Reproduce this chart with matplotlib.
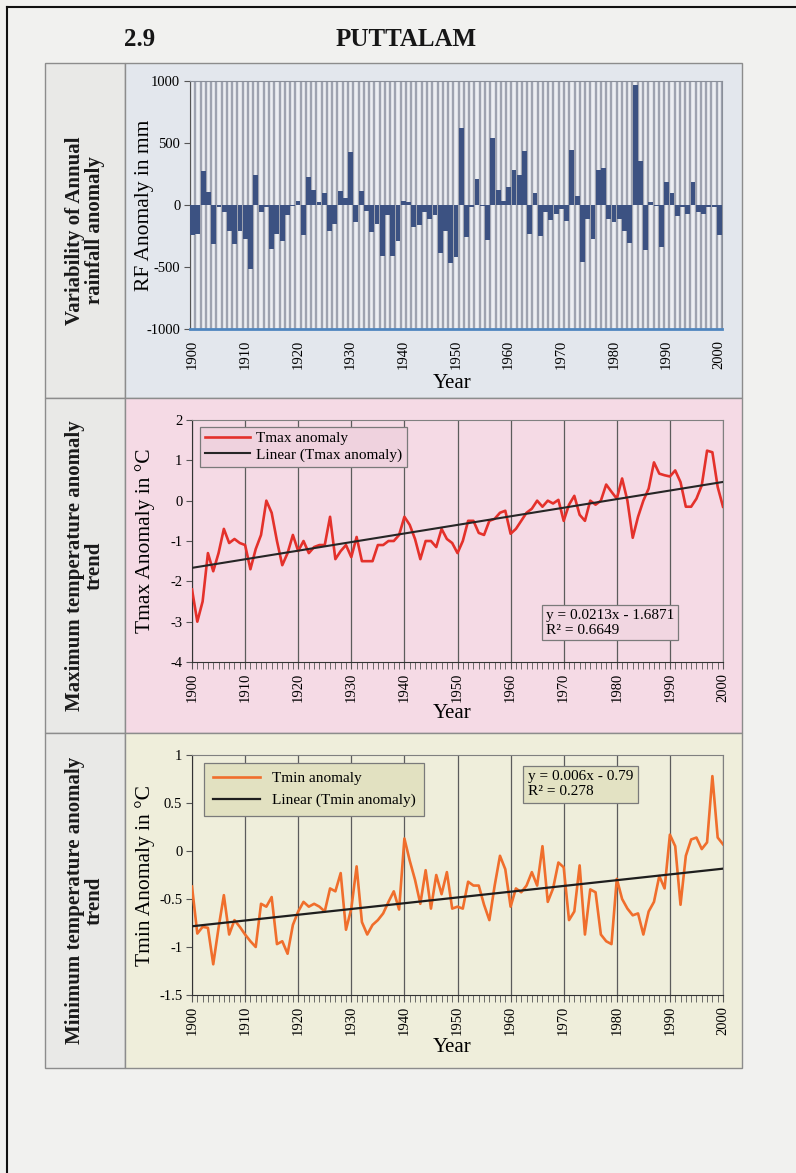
import matplotlib
matplotlib.use('Agg')
import matplotlib.pyplot as plt
from matplotlib.patches import Rectangle
from matplotlib.lines import Line2D
import numpy as np

plt.rcParams['font.family'] = ['Liberation Serif', 'DejaVu Serif']
plt.rcParams['axes.unicode_minus'] = False

# ---- data ----
years = list(range(1900, 2001))

# annual rainfall anomaly, mm
rf = [-240, -230, 272, 107, -312, -20, -58, -211, -318, -211,
      -274, -520, 241, -53, -20, -356, -231, -287, -84, -5,
      36, -241, 226, 124, 23, 94, -206, -155, 112, 56,
      429, -135, 112, -46, -216, -155, -410, -84, -410, -287,
      30, 25, -180, -160, -58, -109, -84, -390, -211, -470,
      -420, 620, -262, -15, 208, -5, -282, 540, 124, 30,
      145, 279, 241, 432, -236, 99, -254, -53, -122, -71,
      -33, -127, 440, 74, -460, -109, -274, 279, 297, -109,
      -140, -109, -211, -307, 970, 353, -360, 23, -10, -340,
      183, 99, -89, -20, -71, 183, -58, -71, -15, -15,
      -240]

# maximum temperature anomaly, deg C
tmax = [-2.2, -3.0, -2.5, -1.3, -1.75, -1.3, -0.7, -1.05, -0.95, -1.05,
        -1.1, -1.7, -1.2, -0.85, 0.0, -0.3, -1.0, -1.6, -1.3, -0.85,
        -1.25, -1.0, -1.3, -1.15, -1.1, -1.1, -0.4, -1.45, -1.25, -1.1,
        -1.4, -0.9, -1.5, -1.5, -1.5, -1.1, -1.1, -1.0, -1.0, -0.85,
        -0.4, -0.6, -0.95, -1.45, -1.0, -1.0, -1.15, -0.7, -0.95, -1.05,
        -1.3, -1.0, -0.5, -0.5, -0.8, -0.85, -0.5, -0.45, -0.3, -0.25,
        -0.82, -0.7, -0.5, -0.3, -0.2, 0.0, -0.15, 0.0, -0.07, 0.02,
        -0.5, -0.1, 0.12, -0.35, -0.5, 0.0, -0.1, 0.0, 0.4, 0.22,
        0.05, 0.55, 0.0, -0.92, -0.4, 0.0, 0.3, 0.95, 0.67, 0.63,
        0.6, 0.75, 0.46, -0.15, -0.15, 0.05, 0.38, 1.24, 1.2, 0.34,
        -0.15]

# minimum temperature anomaly, deg C
tmin = [-0.37, -0.86, -0.79, -0.8, -1.18, -0.8, -0.46, -0.87, -0.72, -0.79,
        -0.87, -0.94, -1.0, -0.55, -0.58, -0.48, -0.97, -0.94, -1.07, -0.77,
        -0.63, -0.53, -0.58, -0.55, -0.58, -0.63, -0.39, -0.42, -0.23, -0.82,
        -0.6, -0.16, -0.74, -0.87, -0.77, -0.72, -0.65, -0.53, -0.42, -0.61,
        0.13, -0.1, -0.3, -0.55, -0.2, -0.6, -0.25, -0.45, -0.22, -0.6,
        -0.58, -0.6, -0.32, -0.36, -0.36, -0.56, -0.72, -0.36, -0.05, -0.19,
        -0.58, -0.39, -0.43, -0.36, -0.22, -0.36, 0.05, -0.53, -0.39, -0.12,
        -0.17, -0.72, -0.63, -0.15, -0.87, -0.4, -0.43, -0.87, -0.94, -0.97,
        -0.29, -0.5, -0.6, -0.67, -0.65, -0.87, -0.63, -0.53, -0.26, -0.39,
        0.17, 0.05, -0.56, -0.05, 0.12, 0.14, 0.02, 0.09, 0.78, 0.14,
        0.07]

# Excel trend lines (x = 1..101)
tmax_slope, tmax_icpt, tmax_r2 = 0.0213, -1.6871, 0.6649
tmin_slope, tmin_icpt, tmin_r2 = 0.006, -0.79, 0.278

decades = list(range(1900, 2001, 10))
row_titles = ["Variability of Annual\nrainfall anomaly",
              "Maximum temperature anomaly\ntrend",
              "Minimum temperature anomaly\ntrend"]

# ---- figure / page ----
W, H = 796, 1173
fig = plt.figure(figsize=(W / 100, H / 100), dpi=100)
fig.patch.set_facecolor('#f1f1ef')


def box(x0, y0, x1, y1):
    return [x0 / W, 1 - y1 / H, (x1 - x0) / W, (y1 - y0) / H]


def rect(x0, y0, x1, y1, fc, ec='#8c8c8c', lw=1.0):
    fig.add_artist(Rectangle((x0 / W, 1 - y1 / H), (x1 - x0) / W, (y1 - y0) / H,
                             transform=fig.transFigure, fc=fc, ec=ec, lw=lw, zorder=-5))


def ftext(x, y, s, **kw):
    fig.text(x / W, 1 - y / H, s, **kw)


# page border
fig.add_artist(Line2D([7 / W, 7 / W], [0, 1 - 7 / H], transform=fig.transFigure, color='#111', lw=1.5))
fig.add_artist(Line2D([7 / W, 1], [1 - 7 / H, 1 - 7 / H], transform=fig.transFigure, color='#111', lw=1.5))

ftext(140, 40, "2.9", fontsize=18, fontweight='bold', ha='center', va='center', color='#161616')
ftext(406, 40, "PUTTALAM", fontsize=18, fontweight='bold', ha='center', va='center', color='#161616')

# table cells
rows = [(63, 398), (398, 733), (733, 1068)]
cell_cols = ['#e3e7ed', '#f5dae5', '#efeedb']
for (r0, r1), c, t in zip(rows, cell_cols, row_titles):
    rect(45, r0, 125, r1, '#e9e9e7')
    rect(125, r0, 742, r1, c)
    ftext(85, (r0 + r1) / 2, t, rotation=90, ha='center', va='center', fontsize=15,
          fontweight='bold', linespacing=0.95, multialignment='center', color='#1a1a1a')


def style_temp_axis(ax):
    ax.set_xlim(1900, 2000)
    ax.set_xticks(decades)
    ax.set_xticks(years, minor=True)
    ax.set_xticklabels([str(d) for d in decades], rotation=90, fontsize=10.5)
    ax.tick_params(axis='x', which='both', direction='out', length=5, color='#555', pad=3)
    ax.tick_params(axis='y', direction='out', length=4, color='#555', labelsize=10.5, pad=3)
    ax.grid(axis='x', which='major', color='#5c5c5c', lw=0.9)
    for s in ['top', 'right']:
        ax.spines[s].set_color('#808080')
    for s in ['left', 'bottom']:
        ax.spines[s].set_color('#333')


# ---- panel 1: rainfall bars ----
ax1 = fig.add_axes(box(190, 81, 722, 329), facecolor='#eceef2')
ax1.bar(years, rf, width=0.92, color='#3c5282', zorder=3)
ax1.set_xlim(1899.5, 2000.5)
ax1.set_ylim(-1000, 1000)
ax1.set_yticks([-1000, -500, 0, 500, 1000])
ax1.set_xticks(decades)
ax1.set_xticklabels([str(d) for d in decades], rotation=90, fontsize=10.5)
ax1.set_xticks(np.arange(1899.5, 2001, 1), minor=True)
ax1.grid(which='minor', axis='x', color='#9ea3b0', lw=1.7)
ax1.tick_params(axis='x', which='both', length=0, pad=8)
ax1.tick_params(axis='y', direction='out', length=4, color='#555', labelsize=10.5, pad=3)
ax1.spines['bottom'].set_color('#4f86bf')
ax1.spines['bottom'].set_linewidth(2)
ax1.spines['left'].set_color('#555')
ax1.spines['top'].set_color('#8a8f99')
ax1.spines['right'].set_color('#8a8f99')
ftext(145, 205, "RF Anomaly in mm", rotation=90, ha='center', va='center', fontsize=15.5)
ftext(452, 383, "Year", ha='center', va='center', fontsize=15)

# ---- panel 2: Tmax ----
idx = np.arange(1, len(years) + 1)
ax2 = fig.add_axes(box(192, 420, 723, 662), facecolor='none')
ax2.plot(years, tmax, color='#e4312b', lw=1.9, label='Tmax anomaly', zorder=3)
ax2.plot(years, tmax_slope * idx + tmax_icpt, color='#262626', lw=1.5,
         label='Linear (Tmax anomaly)', zorder=4)
ax2.set_ylim(-4, 2)
ax2.set_yticks(range(-4, 3))
style_temp_axis(ax2)
leg = ax2.legend(loc='upper left', bbox_to_anchor=(0.015, 0.972), borderaxespad=0,
                 fancybox=False, edgecolor='#7a7a7a', facecolor='#efd2de', framealpha=1,
                 fontsize=11, handlelength=3.0, handletextpad=0.4, borderpad=0.3,
                 labelspacing=0.2)
leg.get_frame().set_linewidth(0.9)
ax2.text(0.666, 0.163, "y = %.4fx - %.4f\nR² = %.4f" % (tmax_slope, -tmax_icpt, tmax_r2),
         transform=ax2.transAxes, ha='left', va='center', fontsize=11, linespacing=1.2,
         bbox=dict(boxstyle='square,pad=0.25', fc='#f1d6e1', ec='#7a7a7a', lw=0.9))
ftext(145, 541, "Tmax Anomaly in °C", rotation=90, ha='center', va='center', fontsize=15.5)
ftext(452, 714, "Year", ha='center', va='center', fontsize=15)

# ---- panel 3: Tmin ----
ax3 = fig.add_axes(box(192, 755, 723, 995), facecolor='none')
ax3.plot(years, tmin, color='#f06e2c', lw=1.9, label='Tmin anomaly', zorder=3)
ax3.plot(years, tmin_slope * idx + tmin_icpt, color='#1e1e1e', lw=1.6,
         label='Linear (Tmin anomaly)', zorder=4)
ax3.set_ylim(-1.5, 1)
ax3.set_yticks([-1.5, -1, -0.5, 0, 0.5, 1])
ax3.set_yticklabels(['-1.5', '-1', '-0.5', '0', '0.5', '1'])
style_temp_axis(ax3)
leg = ax3.legend(loc='upper left', bbox_to_anchor=(0.023, 0.967), borderaxespad=0,
                 fancybox=False, edgecolor='#7a7a7a', facecolor='#e2e1c1', framealpha=1,
                 fontsize=11, handlelength=3.1, handletextpad=0.8, borderpad=0.55,
                 labelspacing=0.55)
leg.get_frame().set_linewidth(0.9)
ax3.text(0.632, 0.878, "y = %.3fx - %.2f\nR² = %.3f" % (tmin_slope, -tmin_icpt, tmin_r2),
         transform=ax3.transAxes, ha='left', va='center', fontsize=11, linespacing=1.2,
         bbox=dict(boxstyle='square,pad=0.3', fc='#e3e2c3', ec='#7a7a7a', lw=0.9))
ftext(145, 875, "Tmin Anomaly in °C", rotation=90, ha='center', va='center', fontsize=15.5)
ftext(452, 1048, "Year", ha='center', va='center', fontsize=15)

fig.savefig('out.png', dpi=100, facecolor=fig.get_facecolor())
